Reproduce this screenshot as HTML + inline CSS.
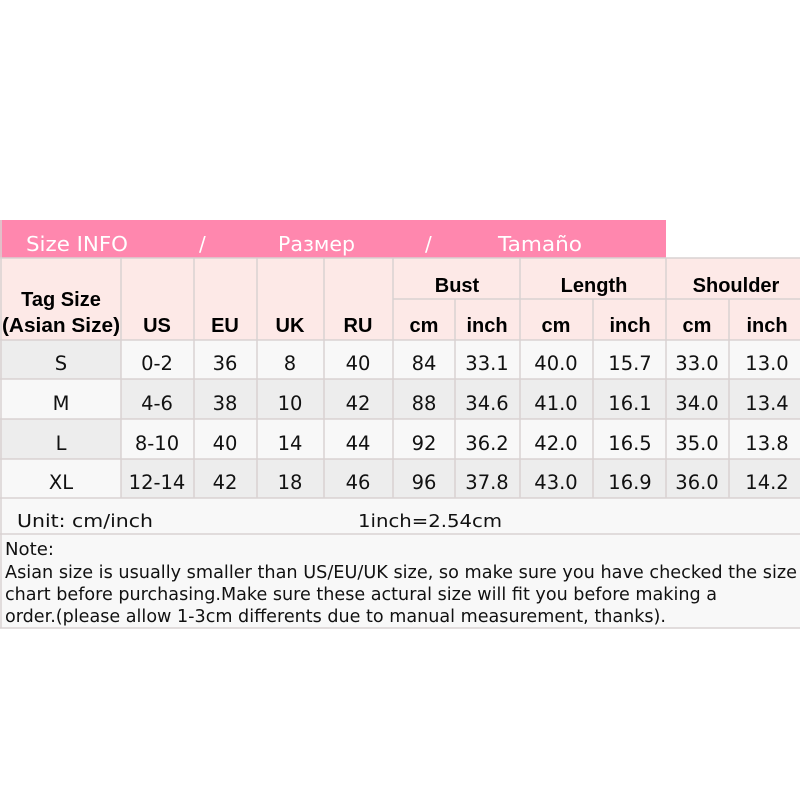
<!DOCTYPE html>
<html><head><meta charset="utf-8"><style>
html,body{margin:0;padding:0;background:#fff;width:800px;height:800px;overflow:hidden}
svg text{font-family:"DejaVu Sans","Liberation Sans",sans-serif}
.b{font-family:"Liberation Sans",sans-serif !important;font-weight:bold}
</style></head><body>
<svg width="800" height="800" viewBox="0 0 800 800" xmlns="http://www.w3.org/2000/svg">
<rect x="0" y="220" width="666" height="38" fill="#ff87ae"/>
<g fill="#fff" font-size="20">
<text x="26" y="251" textLength="102" lengthAdjust="spacingAndGlyphs">Size INFO</text>
<text x="199" y="251">/</text>
<text x="278" y="251" textLength="77" lengthAdjust="spacingAndGlyphs">Размер</text>
<text x="425" y="251">/</text>
<text x="498" y="251" textLength="84" lengthAdjust="spacingAndGlyphs">Tamaño</text>
</g>
<rect x="0" y="258" width="800" height="82" fill="#fde9e7"/>
<rect x="0" y="340" width="800" height="39" fill="#f8f8f8"/>
<rect x="0" y="379" width="800" height="40" fill="#ededed"/>
<rect x="0" y="419" width="800" height="40" fill="#f8f8f8"/>
<rect x="0" y="459" width="800" height="39" fill="#ededed"/>
<rect x="0" y="340" width="121" height="39" fill="#ededed"/>
<rect x="0" y="379" width="121" height="40" fill="#f8f8f8"/>
<rect x="0" y="419" width="121" height="40" fill="#ededed"/>
<rect x="0" y="459" width="121" height="39" fill="#f8f8f8"/>
<rect x="0" y="498" width="800" height="130" fill="#f8f8f8"/>
<g stroke="#d9d2d2" stroke-width="1.5" fill="none">
<line x1="0" y1="258" x2="800" y2="258"/>
<line x1="393" y1="299" x2="800" y2="299"/>
<line x1="0" y1="340" x2="800" y2="340"/>
<line x1="0" y1="379" x2="800" y2="379"/>
<line x1="0" y1="419" x2="800" y2="419"/>
<line x1="0" y1="459" x2="800" y2="459"/>
<line x1="0" y1="498" x2="800" y2="498"/>
<line x1="0" y1="534" x2="800" y2="534"/>
<line x1="0" y1="628" x2="800" y2="628"/>
<line x1="1" y1="220" x2="1" y2="628"/>
<line x1="121" y1="258" x2="121" y2="498"/>
<line x1="194" y1="258" x2="194" y2="498"/>
<line x1="257" y1="258" x2="257" y2="498"/>
<line x1="324" y1="258" x2="324" y2="498"/>
<line x1="393" y1="258" x2="393" y2="498"/>
<line x1="455" y1="299" x2="455" y2="498"/>
<line x1="520" y1="258" x2="520" y2="498"/>
<line x1="593" y1="299" x2="593" y2="498"/>
<line x1="666" y1="258" x2="666" y2="498"/>
<line x1="729" y1="299" x2="729" y2="498"/>
</g>
<g font-size="20" text-anchor="middle" fill="#000">
<text class="b" x="61" y="306">Tag Size</text>
<text class="b" x="61" y="332" textLength="118" lengthAdjust="spacingAndGlyphs">(Asian Size)</text>
<text class="b" x="157" y="332">US</text>
<text class="b" x="225" y="332">EU</text>
<text class="b" x="290" y="332">UK</text>
<text class="b" x="358" y="332">RU</text>
<text class="b" x="457" y="292">Bust</text>
<text class="b" x="594" y="292">Length</text>
<text class="b" x="736" y="292">Shoulder</text>
<text class="b" x="424" y="332">cm</text>
<text class="b" x="487" y="332">inch</text>
<text class="b" x="556" y="332">cm</text>
<text class="b" x="630" y="332">inch</text>
<text class="b" x="697" y="332">cm</text>
<text class="b" x="767" y="332">inch</text>
</g>
<g font-size="19.5" text-anchor="middle" fill="#111">
<text x="61" y="370">S</text><text x="157" y="370">0-2</text><text x="225" y="370">36</text><text x="290" y="370">8</text><text x="358" y="370">40</text><text x="424" y="370">84</text><text x="487" y="370">33.1</text><text x="556" y="370">40.0</text><text x="630" y="370">15.7</text><text x="697" y="370">33.0</text><text x="767" y="370">13.0</text>
<text x="61" y="410">M</text><text x="157" y="410">4-6</text><text x="225" y="410">38</text><text x="290" y="410">10</text><text x="358" y="410">42</text><text x="424" y="410">88</text><text x="487" y="410">34.6</text><text x="556" y="410">41.0</text><text x="630" y="410">16.1</text><text x="697" y="410">34.0</text><text x="767" y="410">13.4</text>
<text x="61" y="450">L</text><text x="157" y="450">8-10</text><text x="225" y="450">40</text><text x="290" y="450">14</text><text x="358" y="450">44</text><text x="424" y="450">92</text><text x="487" y="450">36.2</text><text x="556" y="450">42.0</text><text x="630" y="450">16.5</text><text x="697" y="450">35.0</text><text x="767" y="450">13.8</text>
<text x="61" y="489">XL</text><text x="157" y="489">12-14</text><text x="225" y="489">42</text><text x="290" y="489">18</text><text x="358" y="489">46</text><text x="424" y="489">96</text><text x="487" y="489">37.8</text><text x="556" y="489">43.0</text><text x="630" y="489">16.9</text><text x="697" y="489">36.0</text><text x="767" y="489">14.2</text>
</g>
<g font-size="18" fill="#111">
<text x="17" y="527" textLength="136" lengthAdjust="spacingAndGlyphs">Unit: cm/inch</text>
<text x="358" y="527" textLength="144" lengthAdjust="spacingAndGlyphs">1inch=2.54cm</text>
<text x="5" y="555" textLength="49" lengthAdjust="spacingAndGlyphs">Note:</text>
<text x="5" y="578" textLength="792" lengthAdjust="spacingAndGlyphs">Asian size is usually smaller than US/EU/UK size, so make sure you have checked the size</text>
<text x="5" y="600" textLength="712" lengthAdjust="spacingAndGlyphs">chart before purchasing.Make sure these actural size will fit you before making a</text>
<text x="5" y="622" textLength="661" lengthAdjust="spacingAndGlyphs">order.(please allow 1-3cm differents due to manual measurement, thanks).</text>
</g>
</svg>
</body></html>
